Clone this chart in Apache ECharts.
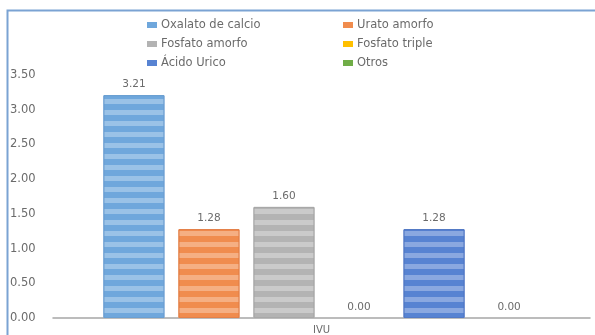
<!DOCTYPE html>
<html><head><meta charset="utf-8">
<script src="https://cdn.jsdelivr.net/npm/echarts@6/dist/echarts.min.js"></script>
<style>html,body{margin:0;padding:0;background:#fff}#c{width:595px;height:335px}</style>
</head><body><div id="c"></div>
<script>
const categories = ['IVU'];
const seriesNames = ['Oxalato de calcio','Urato amorfo','Fosfato amorfo','Fosfato triple','Ácido Urico','Otros'];
const seriesValues = [[3.21],[1.28],[1.60],[0.00],[1.28],[0.00]];
const yTicks = ['0.00','0.50','1.00','1.50','2.00','2.50','3.00','3.50'];
const colors = ['#6FA7DC','#F08C4E','#B3B3B3','#FFC000','#5783D2','#70AD47'];
const borders = ['#6A9FD2','#E48048','#A8A8A8','#E0A800','#5279C5','#5E9A38'];

const chart = echarts.init(document.getElementById('c'), null, {renderer:'canvas'});
const font = 'DejaVu Sans';
const series = seriesNames.map((n,i)=>({
  name:n, type:'bar', data:seriesValues[i], barWidth:61, barGap:'23%',
  itemStyle:{color:colors[i], borderColor:borders[i], borderWidth:seriesValues[i][0] > 0 ? 1 : 0,
    decal:{symbol:'rect', symbolSize:1, dashArrayX:[1,0], dashArrayY:[5,6], color:'rgba(255,255,255,0.3)', rotation:0}},
  label:{show:true, position:'top', distance:5, formatter:p=>p.value.toFixed(2), color:'#6b6b6b', fontFamily:font, fontSize:10.5}
}));
const legendBase = {orient:'vertical', top:14, itemGap:7, itemWidth:10, itemHeight:6, icon:'rect',
  itemStyle:{decal:'none', borderWidth:0},
  textStyle:{color:'#6b6b6b', fontFamily:font, fontSize:11.5, padding:[0,0,0,-1]}};
chart.setOption({
  animation:false,
  color:colors,
  grid:{left:53, right:5, top:75, bottom:17, containLabel:false},
  legend:[
    Object.assign({left:142, data:[seriesNames[0],seriesNames[2],seriesNames[4]]}, legendBase),
    Object.assign({left:338, data:[seriesNames[1],seriesNames[3],seriesNames[5]]}, legendBase)
  ],
  xAxis:{type:'category', data:categories, axisLine:{lineStyle:{color:'#A6A6A6', width:1.5}}, axisTick:{show:false},
    axisLabel:{color:'#6b6b6b', fontFamily:font, fontSize:10, margin:7}},
  yAxis:{type:'value', min:0, max:3.5, interval:0.5, axisLine:{show:false}, axisTick:{show:false}, splitLine:{show:false},
    axisLabel:{color:'#6b6b6b', fontFamily:font, fontSize:11.5, align:'left', margin:43, formatter:v=>yTicks[Math.round(v/0.5)]}},
  series:series,
  graphic:[
    {type:'polyline', shape:{points:[[7.5,335],[7.5,10.5],[595,10.5]]}, style:{stroke:'#7BA3D3', lineWidth:2, fill:null}, silent:true}
  ]
});
</script></body></html>
